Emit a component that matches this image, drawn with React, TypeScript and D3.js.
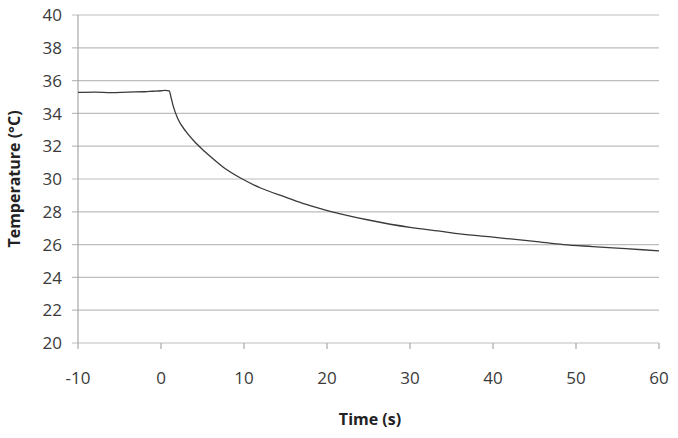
import React from "react";
import * as d3 from "d3";

const timeS = [-10, -8, -6, -4, -2, -1, 0, 0.5, 1.0, 1.2, 1.5, 2.0, 3.0, 4.0, 5.0, 6, 7.5, 9.8, 12, 15, 17.5, 20.6, 25, 30, 33.6, 36, 40, 45, 48.5, 52, 56, 60];
const tempC = [35.28, 35.3, 35.27, 35.3, 35.32, 35.35, 35.38, 35.4, 35.38, 35.0, 34.4, 33.7, 32.9, 32.3, 31.8, 31.35, 30.72, 30.0, 29.45, 28.9, 28.45, 28.0, 27.5, 27.05, 26.82, 26.65, 26.45, 26.2, 26.0, 25.88, 25.75, 25.62];
const xTicks = [-10, 0, 10, 20, 30, 40, 50, 60];
const yTicks = [20, 22, 24, 26, 28, 30, 32, 34, 36, 38, 40];

const W = 678, H = 438;
const L = 78, R = 659, T = 15, B = 343;
const font = "'Open Sans', 'Liberation Sans', sans-serif";

export default function App() {
  const x = d3.scaleLinear().domain([-10, 60]).range([L, R]);
  const y = d3.scaleLinear().domain([20, 40]).range([B, T]);
  const pts = timeS.map((t, i) => [t, tempC[i]] as [number, number]);
  const line = d3.line<[number, number]>().x(d => x(d[0])).y(d => y(d[1])).curve(d3.curveMonotoneX);
  return (
    <svg width={W} height={H} style={{ position: "absolute", left: 0, top: 0, background: "#fff" }} fontFamily={font}>
      {yTicks.map(v => (
        <g key={"y" + v}>
          <line x1={L - 6} x2={R} y1={y(v)} y2={y(v)} stroke="#bdbdbd" strokeWidth={1.2} />
          <text x={62} y={y(v)} dy="0.36em" textAnchor="end" fontSize={17} fill="#3a3a3a">{v}</text>
        </g>
      ))}
      <line x1={L} x2={L} y1={T} y2={B} stroke="#a8a8a8" strokeWidth={1.2} />
      {xTicks.map(v => (
        <g key={"x" + v}>
          <line x1={x(v)} x2={x(v)} y1={B} y2={B + 6} stroke="#a8a8a8" strokeWidth={1.2} />
          <text x={x(v)} y={384} textAnchor="middle" fontSize={17} fill="#3a3a3a">{v}</text>
        </g>
      ))}
      <path d={line(pts) || ""} fill="none" stroke="#3a3a3a" strokeWidth={1.3} />
      <text x={370} y={425} textAnchor="middle" fontSize={16} fontWeight="bold" fill="#222">Time (s)</text>
      <text transform={`translate(20,${(T + B) / 2}) rotate(-90)`} textAnchor="middle" fontSize={16} fontWeight="bold" fill="#222">Temperature (°C)</text>
    </svg>
  );
}
